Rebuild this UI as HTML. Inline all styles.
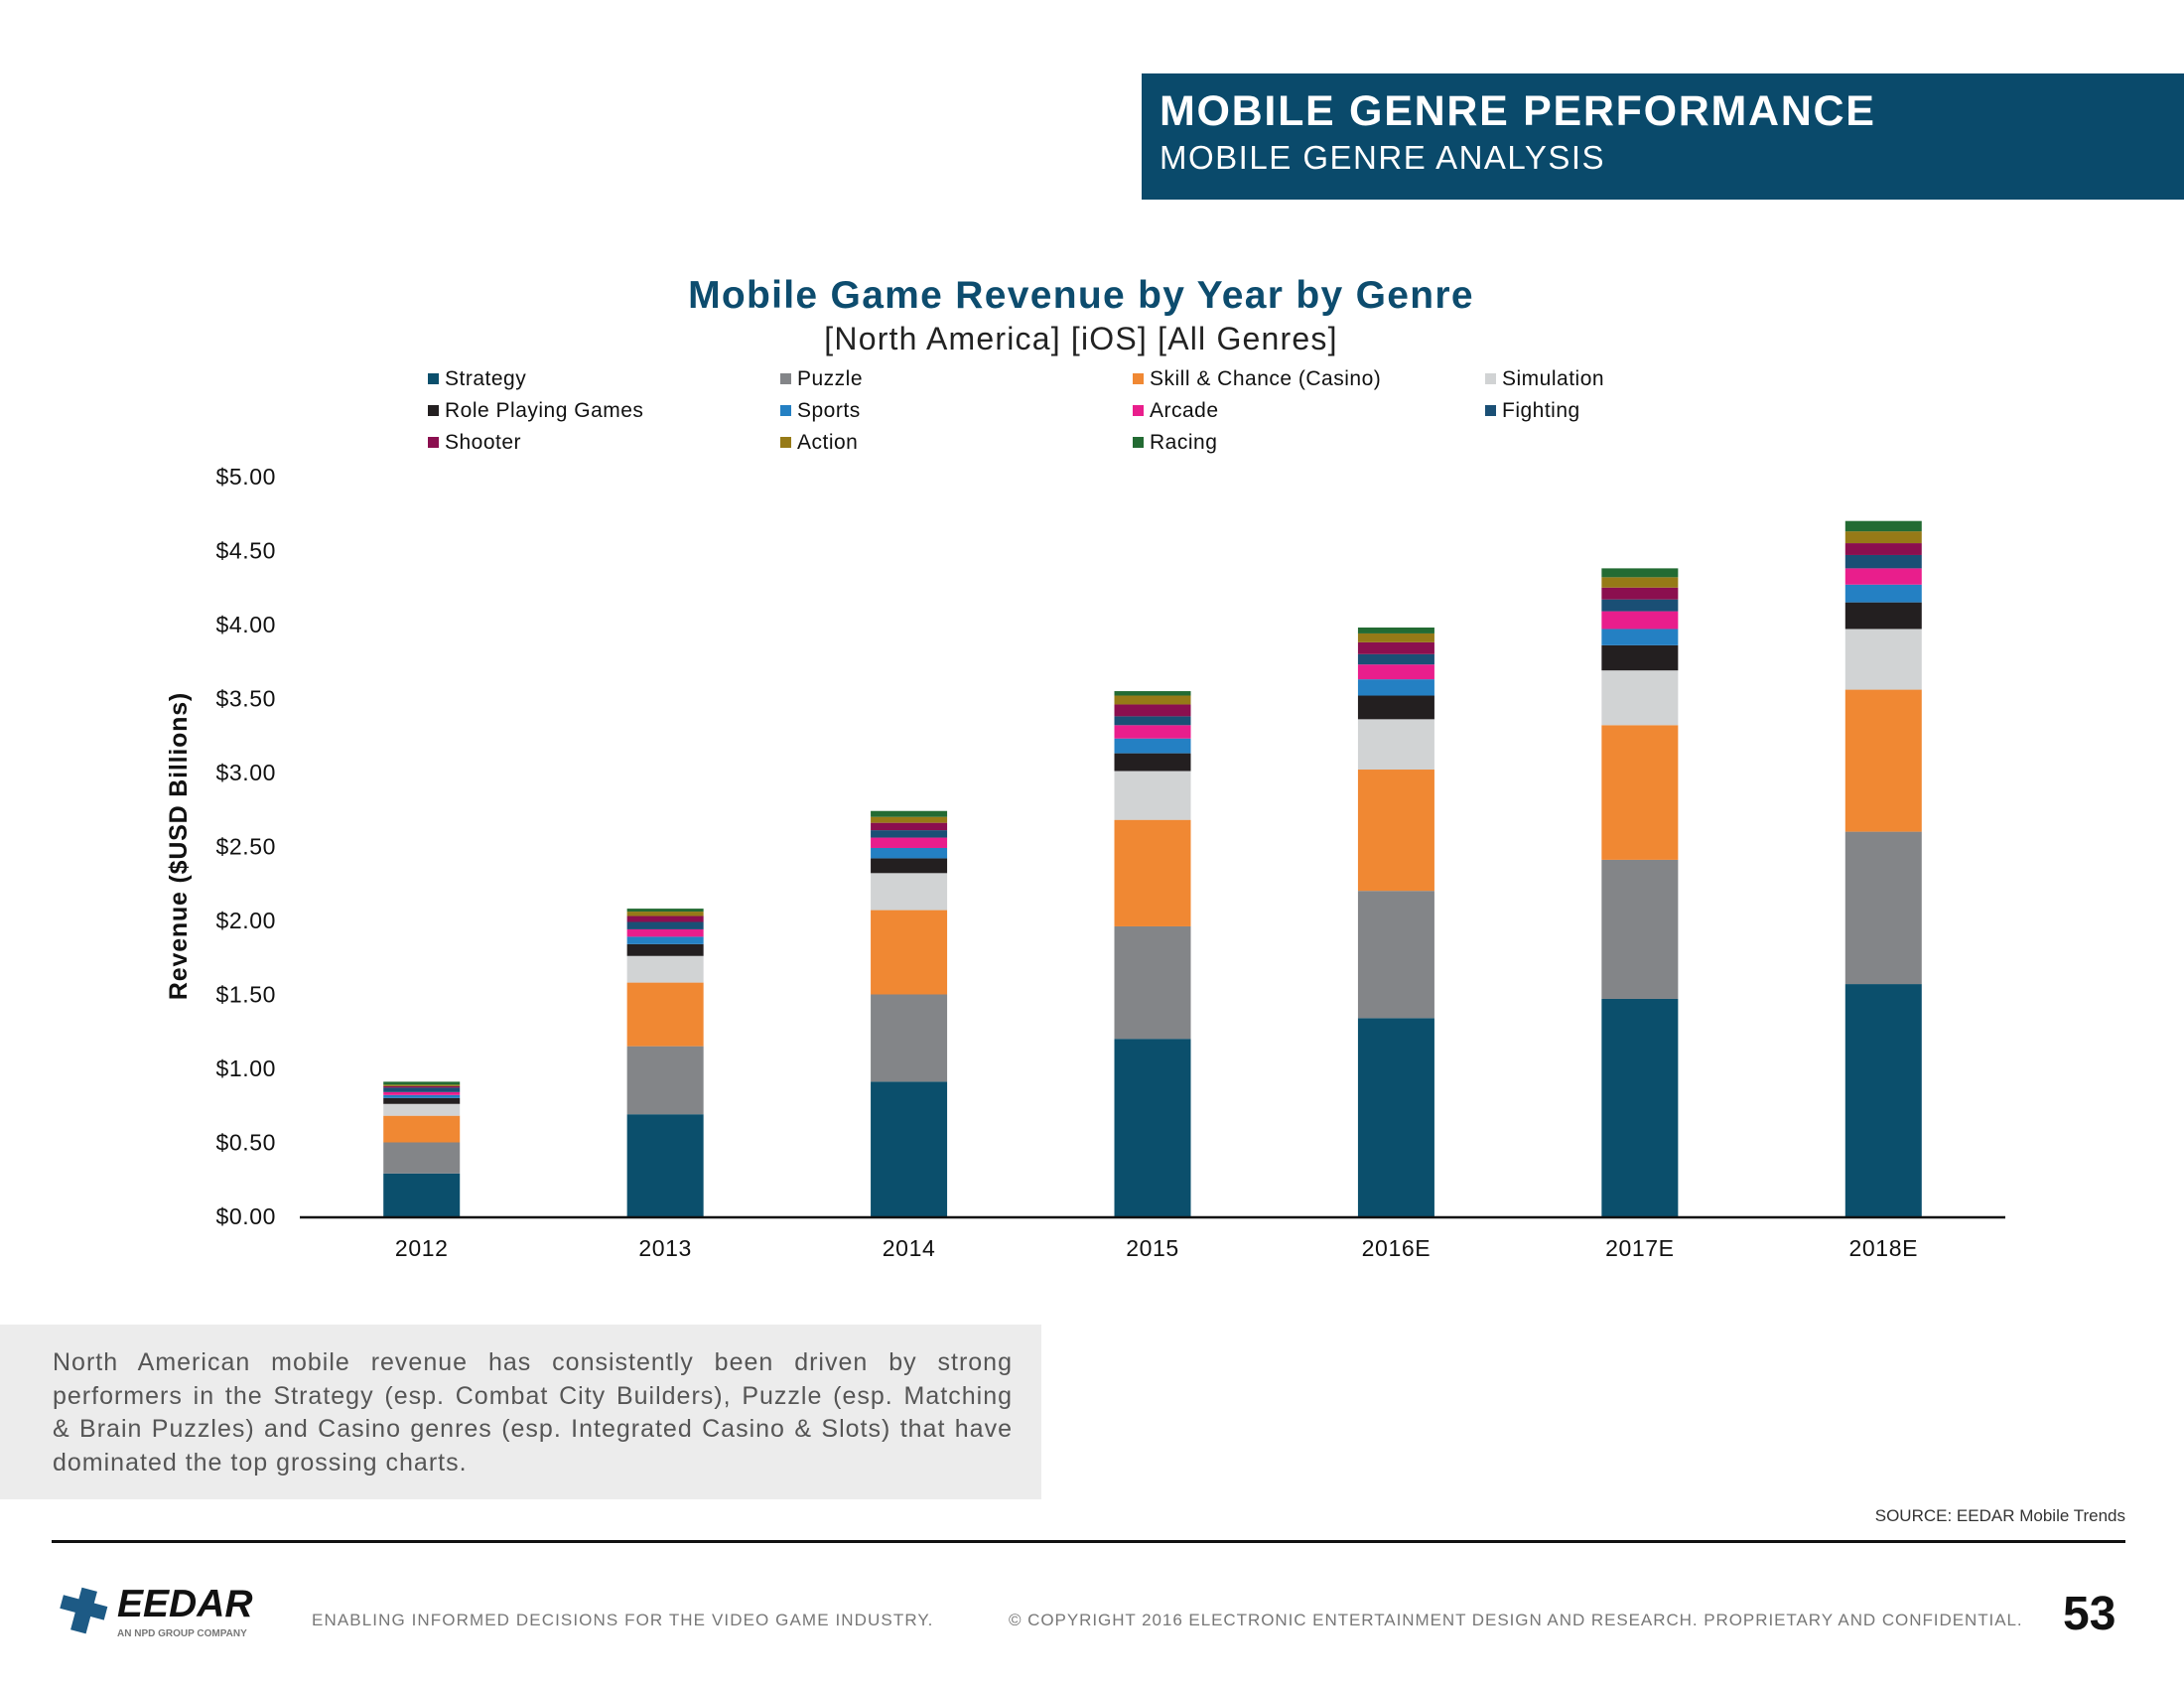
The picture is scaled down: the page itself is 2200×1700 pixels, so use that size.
<!DOCTYPE html>
<html><head><meta charset="utf-8"><style>
html,body{margin:0;padding:0;background:#fff;}
body{width:2200px;height:1700px;position:relative;overflow:hidden;font-family:"Liberation Sans",sans-serif;}
.abs{position:absolute;}
.jl{text-align:justify;text-align-last:justify;white-space:nowrap;}
.ll{text-align:left;}
</style></head><body>
<div class="abs" style="left:1150px;top:74px;width:1050px;height:127px;background:#0a4a6b;"></div>
<div class="abs" style="left:1168px;top:88px;color:#fff;font-weight:bold;font-size:43px;letter-spacing:1.7px;">MOBILE GENRE PERFORMANCE</div>
<div class="abs" style="left:1168px;top:140px;color:#fff;font-size:33px;letter-spacing:1.5px;">MOBILE GENRE ANALYSIS</div>

<svg class="abs" style="left:0;top:0" width="2200" height="1300" id="chart">
<text x="1089" y="310" text-anchor="middle" font-size="39" font-weight="bold" fill="#0d4c6e" letter-spacing="1.3">Mobile Game Revenue by Year by Genre</text>
<text x="1089" y="352" text-anchor="middle" font-size="32" fill="#222" letter-spacing="1.2">[North America] [iOS] [All Genres]</text>
<text transform="translate(188,852) rotate(-90)" text-anchor="middle" font-size="25" font-weight="bold" fill="#111" letter-spacing="0.8">Revenue ($USD Billions)</text>
<g id="legend"></g><g id="yaxis"></g><g id="bars"></g><g id="xaxis"></g>
</svg>

<div class="abs" style="left:0;top:1334px;width:1049px;height:176px;background:#ececec;"></div>
<div class="abs" style="left:53px;top:1356px;width:967px;font-size:25px;line-height:33.5px;color:#555;letter-spacing:1px;">
<div class="jl">North American mobile revenue has consistently been driven by strong</div>
<div class="jl">performers in the Strategy (esp. Combat City Builders), Puzzle (esp. Matching</div>
<div class="jl">&amp; Brain Puzzles) and Casino genres (esp. Integrated Casino &amp; Slots) that have</div>
<div class="ll">dominated the top grossing charts.</div>
</div>
<div class="abs" style="right:59px;top:1517px;font-size:17px;color:#333;">SOURCE: EEDAR Mobile Trends</div>
<div class="abs" style="left:52px;top:1551px;width:2089px;height:3px;background:#111;"></div>
<svg class="abs" style="left:54px;top:1596px" width="70" height="56">
<path d="M22 4h16v12h14v14H38v18H22V30H6V16h16z" fill="#1d5a85" transform="rotate(15 30 28)"/>
</svg>
<div class="abs" style="left:118px;top:1594px;font-size:39px;font-weight:bold;font-style:italic;color:#111;">EEDAR</div>
<div class="abs" style="left:118px;top:1640px;font-size:10px;font-weight:bold;color:#777;">AN NPD GROUP COMPANY</div>
<div class="abs" style="left:314px;top:1622px;font-size:17px;color:#777;letter-spacing:1.1px;">ENABLING INFORMED DECISIONS FOR THE  VIDEO GAME INDUSTRY.</div>
<div class="abs" style="left:1016px;top:1622px;font-size:17px;color:#777;letter-spacing:0.95px;">© COPYRIGHT 2016 ELECTRONIC ENTERTAINMENT DESIGN AND RESEARCH. PROPRIETARY AND CONFIDENTIAL.</div>
<div class="abs" style="left:2078px;top:1598px;font-size:48px;font-weight:bold;color:#111;">53</div>

<script>
const categories = ["2012","2013","2014","2015","2016E","2017E","2018E"];
const genres = ["Strategy","Puzzle","Skill & Chance (Casino)","Simulation","Role Playing Games","Sports","Arcade","Fighting","Shooter","Action","Racing"];
const colors = ["#0b4f6c","#838588","#f08833","#d1d3d4","#231f20","#2480c3","#e91e8c","#1a4f75","#8b0f4f","#967a17","#236b33"];
const strategy = [0.29,0.69,0.91,1.20,1.34,1.47,1.57];
const puzzle   = [0.21,0.46,0.59,0.76,0.86,0.94,1.03];
const casino   = [0.18,0.43,0.57,0.72,0.82,0.91,0.96];
const simulation=[0.08,0.18,0.25,0.33,0.34,0.37,0.41];
const rpg      = [0.04,0.08,0.10,0.12,0.16,0.17,0.18];
const sports   = [0.02,0.05,0.07,0.10,0.11,0.11,0.12];
const arcade   = [0.02,0.05,0.07,0.09,0.10,0.12,0.11];
const fighting = [0.03,0.05,0.05,0.06,0.07,0.08,0.09];
const shooter  = [0.01,0.04,0.05,0.08,0.08,0.08,0.08];
const action   = [0.01,0.03,0.04,0.06,0.06,0.07,0.08];
const racing   = [0.02,0.02,0.04,0.03,0.04,0.06,0.07];
const yTicks = [0,0.5,1,1.5,2,2.5,3,3.5,4,4.5,5];
const yTickLabels = ["$0.00","$0.50","$1.00","$1.50","$2.00","$2.50","$3.00","$3.50","$4.00","$4.50","$5.00"];

const series=[strategy,puzzle,casino,simulation,rpg,sports,arcade,fighting,shooter,action,racing];
const NS="http://www.w3.org/2000/svg";
const y0=1225,y5=480,xl=302,xr=2020;
const yScale=v=>y0-(y0-y5)*v/5;
const band=(xr-xl)/categories.length;
const xScale=i=>xl+band*(i+0.5);
const bw=77;
function mk(tag,attrs,parent){const e=document.createElementNS(NS,tag);for(const k in attrs)e.setAttribute(k,attrs[k]);parent.appendChild(e);return e;}

const yg=document.getElementById('yaxis');
yTicks.forEach((t,i)=>{const e=mk('text',{x:278,y:yScale(t)+8,'text-anchor':'end','font-size':23,fill:'#111','letter-spacing':0.6},yg);e.textContent=yTickLabels[i];

});

const bg=document.getElementById('bars');
categories.forEach((c,i)=>{let acc=0;
 series.forEach((s,j)=>{const v=s[i];const r=mk('rect',{x:xScale(i)-bw/2,y:yScale(acc+v),width:bw,height:yScale(acc)-yScale(acc+v),fill:colors[j]},bg);
 
 
 acc+=v;});
 const t=mk('text',{x:xScale(i),y:1265,'text-anchor':'middle','font-size':23,fill:'#111','letter-spacing':0.6},document.getElementById('xaxis'));t.textContent=c;
 
 
});
const ax=mk('line',{x1:xl,x2:xr,y1:y0+1,y2:y0+1,stroke:'#111','stroke-width':2.5},document.getElementById('xaxis'));



const lg=document.getElementById('legend');
const lx=[431,786,1141,1496],ly=[382,414,446];
genres.forEach((g,k)=>{const col=k%4,row=Math.floor(k/4);
 const grp=mk('g',{},lg);
 
 
 mk('rect',{x:lx[col],y:ly[row]-6,width:11,height:11,fill:colors[k]},grp);
 const t=mk('text',{x:lx[col]+17,y:ly[row]+6,'font-size':21,fill:'#111','letter-spacing':0.5},grp);t.textContent=g;});
</script>
</body></html>
